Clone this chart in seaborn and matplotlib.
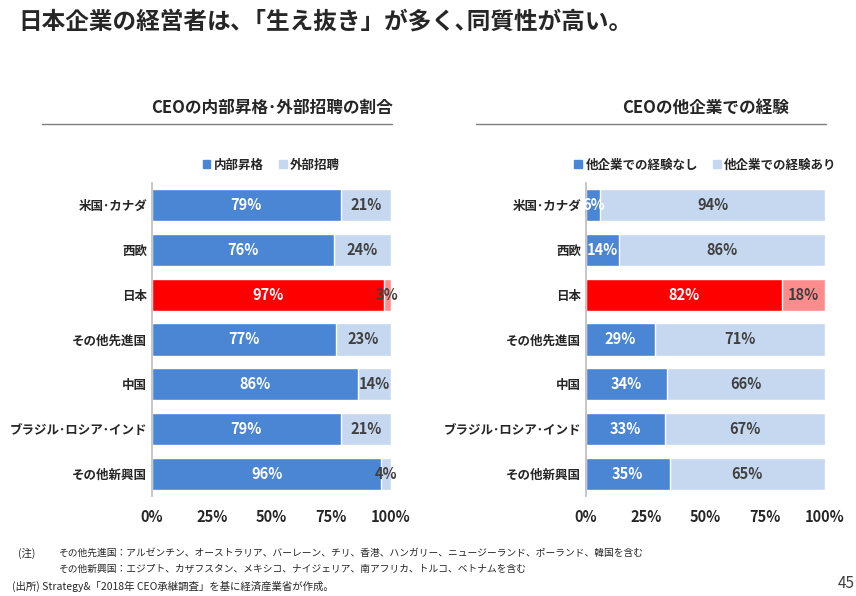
import matplotlib
matplotlib.use("Agg")
import matplotlib.pyplot as plt
import numpy as np
import pandas as pd
import seaborn as sns
from matplotlib.patches import Patch

regions = ["米国･カナダ", "西欧", "日本", "その他先進国", "中国", "ブラジル･ロシア･インド", "その他新興国"]
internal = [79, 76, 97, 77, 86, 79, 96]
external = [21, 24, 3, 23, 14, 21, 4]
no_exp = [6, 14, 82, 29, 34, 33, 35]
with_exp = [94, 86, 18, 71, 66, 67, 65]

BLUE = "#4a86d4"
LIGHT = "#c6d8f0"
RED = "#ff0000"
PINK = "#ff8c8c"

sns.set_theme(style="white")
plt.rcParams["font.family"] = ["Noto Sans CJK JP", "DejaVu Sans"]

fig = plt.figure(figsize=(8.56, 5.96), dpi=100)
W, H = 856, 596


def panel(left, title, first, second, labels):
    ax = fig.add_axes([left / W, 1 - 496 / H, 239 / W, 313 / H])
    df = pd.DataFrame({"region": regions, "a": first, "b": second})
    df["total"] = df["a"] + df["b"]
    bg = [PINK if r == "日本" else LIGHT for r in regions]
    fg = [RED if r == "日本" else BLUE for r in regions]
    sns.barplot(data=df, y="region", x="total", hue="region", palette=bg,
                legend=False, width=0.72, ax=ax, saturation=1)
    sns.barplot(data=df, y="region", x="a", hue="region", palette=fg,
                legend=False, width=0.72, ax=ax, saturation=1)
    for i, (a, b) in enumerate(zip(first, second)):
        ax.text(a / 2, i, f"{a}%", ha="center", va="center", color="white",
                fontsize=10.5, fontweight="bold")
        ax.text(a + b / 2, i, f"{b}%", ha="center", va="center", color="#404040",
                fontsize=10.5, fontweight="bold")
    ax.set_xlim(0, 100)
    ax.set_xticks([0, 25, 50, 75, 100])
    ax.set_xticklabels(["0%", "25%", "50%", "75%", "100%"], fontsize=10.5, fontweight="bold")
    ax.set_xlabel("")
    ax.set_ylabel("")
    ax.tick_params(axis="y", labelsize=9, length=0)
    for t in ax.get_yticklabels():
        t.set_fontweight("bold")
    for s in ["top", "right", "bottom"]:
        ax.spines[s].set_visible(False)
    ax.spines["left"].set_color("#bfbfbf")
    handles = [Patch(color=BLUE, label=labels[0]), Patch(color=LIGHT, label=labels[1])]
    ax.legend(handles=handles, loc="lower center", bbox_to_anchor=(0.5, 1.0), ncol=2,
              frameon=False, handlelength=0.6, handleheight=0.6,
              columnspacing=1.2, handletextpad=0.3, prop={"weight": "bold", "size": 9})
    cx = (left + 120) / W
    fig.text(cx, 1 - 108 / H, title, ha="center", va="center", fontsize=12, fontweight="bold")
    fig.add_artist(plt.Line2D([(left - 110) / W, (left + 240) / W], [1 - 124 / H] * 2,
                              color="#7f7f7f", lw=1))


panel(152, "CEOの内部昇格･外部招聘の割合", internal, external, ["内部昇格", "外部招聘"])
panel(586, "CEOの他企業での経験", no_exp, with_exp, ["他企業での経験なし", "他企業での経験あり"])

fig.text(18 / W, 1 - 22 / H, "日本企業の経営者は､「生え抜き」が多く､同質性が高い。",
         ha="left", va="center", fontsize=17, fontweight="bold", color="#262626")
fig.text(18 / W, 1 - 553 / H, "(注)", fontsize=7.5, va="center")
fig.text(58 / W, 1 - 553 / H,
         "その他先進国：アルゼンチン、オーストラリア、バーレーン、チリ、香港、ハンガリー、ニュージーランド、ポーランド、韓国を含む",
         fontsize=7, va="center")
fig.text(58 / W, 1 - 569 / H,
         "その他新興国：エジプト、カザフスタン、メキシコ、ナイジェリア、南アフリカ、トルコ、ベトナムを含む",
         fontsize=7, va="center")
fig.text(12 / W, 1 - 586 / H, "(出所) Strategy&「2018年 CEO承継調査」を基に経済産業省が作成。",
         fontsize=7.5, va="center")
fig.text(838 / W, 1 - 584 / H, "45", fontsize=11, va="center", color="#404040")

fig.savefig("out.png", dpi=100)
